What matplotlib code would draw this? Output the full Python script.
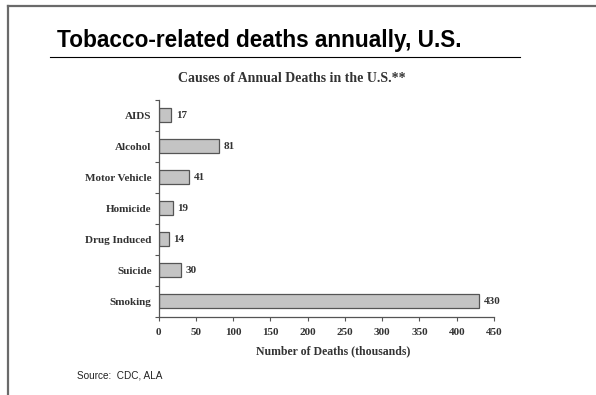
import matplotlib
matplotlib.use("Agg")
import matplotlib.pyplot as plt
from matplotlib.lines import Line2D

categories = ["AIDS", "Alcohol", "Motor Vehicle", "Homicide", "Drug Induced", "Suicide", "Smoking"]
deaths = [17, 81, 41, 19, 14, 30, 430]
xticks = [0, 50, 100, 150, 200, 250, 300, 350, 400, 450]

W, H = 596, 395
fig = plt.figure(figsize=(W / 100, H / 100), dpi=100)
fig.patch.set_facecolor("white")

# slide border (top and left)
fig.add_artist(Line2D([8 / W, 8 / W], [0, 1 - 6 / H], color="#6a6a6a", lw=1.6, transform=fig.transFigure))
fig.add_artist(Line2D([8 / W, 1], [1 - 6 / H, 1 - 6 / H], color="#6a6a6a", lw=1.6, transform=fig.transFigure))

# slide title and underline
fig.text(57 / W, 1 - 47 / H, "Tobacco-related deaths annually, U.S.", fontsize=16.3, fontweight="bold",
         family="Liberation Sans", ha="left", va="baseline", color="black")
fig.add_artist(Line2D([50 / W, 520 / W], [1 - 57 / H, 1 - 57 / H], color="black", lw=0.8, transform=fig.transFigure))

# chart title
fig.text(406 / W, 1 - 79 / H, "Causes of Annual Deaths in the U.S.**", fontsize=10, fontweight="bold",
         family="Liberation Serif", ha="right", va="center", color="#333333")

# source
fig.text(77 / W, 1 - 375 / H, "Source:  CDC, ALA", fontsize=7.2, family="Liberation Sans",
         ha="left", va="center", color="#222222")

ax = fig.add_axes([158.5 / W, 1 - 316.5 / H, (494 - 158.5) / W, (316.5 - 99.5) / H])
ypos = list(range(len(categories)))
ax.barh(ypos, deaths, height=0.44, color="#c4c4c4", edgecolor="#555555", linewidth=0.9)
ax.set_ylim(len(categories) - 0.5, -0.5)
ax.set_xlim(0, 450)

for y, v in zip(ypos, deaths):
    ax.text(v + 6, y, str(v), va="center", ha="left", fontsize=8, fontweight="bold",
            family="Liberation Serif", color="#333333")

ax.set_yticks(ypos)
ax.set_yticklabels(categories, fontsize=8, fontweight="bold", family="Liberation Serif", color="#333333")
ax.tick_params(axis="y", length=0, pad=5)
ax.set_yticks([i + 0.5 for i in range(-1, len(categories))], minor=True)
ax.tick_params(axis="y", which="minor", length=3, direction="out", color="#555555", width=0.8)

ax.set_xticks(xticks)
ax.set_xticklabels([str(t) for t in xticks], fontsize=8, fontweight="bold", family="Liberation Serif", color="#333333")
ax.tick_params(axis="x", length=3, direction="out", color="#555555", width=0.8, pad=5)
ax.set_xlabel("Number of Deaths (thousands)", fontsize=8.5, fontweight="bold", family="Liberation Serif",
              color="#333333")
ax.xaxis.set_label_coords(0.52, -0.135)

for s in ["top", "right"]:
    ax.spines[s].set_visible(False)
for s in ["left", "bottom"]:
    ax.spines[s].set_color("#555555")
    ax.spines[s].set_linewidth(0.9)

fig.savefig("out.png", dpi=100)
